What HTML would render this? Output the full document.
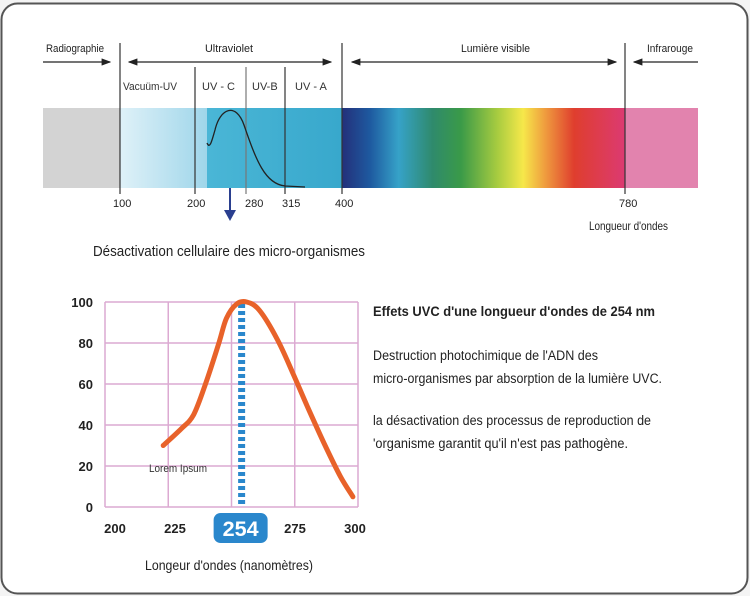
<!DOCTYPE html>
<html><head><meta charset="utf-8"><style>
body{margin:0;background:#f4f4f4;}
svg{display:block;font-family:"Liberation Sans",sans-serif;}
</style></head><body>
<svg width="750" height="596" viewBox="0 0 750 596">
<defs>
<linearGradient id="uvg" x1="0" x2="1"><stop offset="0" stop-color="#dff1f8"/><stop offset="1" stop-color="#9fd6ea"/></linearGradient>
<linearGradient id="uvc" x1="0" x2="1"><stop offset="0" stop-color="#4ab6d6"/><stop offset="1" stop-color="#38a8cc"/></linearGradient>
<linearGradient id="vis" x1="0" x2="1">
<stop offset="0" stop-color="#23307a"/><stop offset="0.1" stop-color="#1e5aa0"/><stop offset="0.2" stop-color="#36a2c8"/>
<stop offset="0.32" stop-color="#2f8a6c"/><stop offset="0.42" stop-color="#3a9a48"/><stop offset="0.55" stop-color="#a8cc40"/>
<stop offset="0.64" stop-color="#f6e84a"/><stop offset="0.72" stop-color="#ef9a3e"/><stop offset="0.82" stop-color="#df3e2e"/>
<stop offset="1" stop-color="#dc3a72"/></linearGradient>
<marker id="ah" markerWidth="8" markerHeight="6" refX="7" refY="3" orient="auto"><path d="M0,0L8,3L0,6z" fill="#222"/></marker>
<marker id="ahs" markerWidth="8" markerHeight="6" refX="1" refY="3" orient="auto"><path d="M8,0L0,3L8,6z" fill="#222"/></marker>
</defs>
<rect x="1.5" y="3.5" width="746" height="590" rx="16" fill="#fff" stroke="#555" stroke-width="2"/>

<g>
<rect x="43" y="108" width="77" height="80" fill="#d3d3d3"/>
<rect x="120" y="108" width="87" height="80" fill="url(#uvg)"/>
<rect x="207" y="108" width="135" height="80" fill="url(#uvc)"/>
<rect x="342" y="108" width="283" height="80" fill="url(#vis)"/>
<rect x="625" y="108" width="73" height="80" fill="#e283ae"/>
<g stroke="#333" stroke-width="1.2">
<line x1="120" y1="43" x2="120" y2="194"/><line x1="342" y1="43" x2="342" y2="194"/><line x1="625" y1="43" x2="625" y2="194"/>
<line x1="195" y1="67" x2="195" y2="194"/><line x1="246" y1="67" x2="246" y2="194" stroke="#777"/><line x1="285" y1="67" x2="285" y2="194"/>
</g>
<path d="M207,143 C210,150 212,140 215,130 C220,108 236,102 244,125 C256,160 265,184 285,186 L305,187" fill="none" stroke="#222" stroke-width="1.3"/>
<g stroke="#222" stroke-width="1.2" fill="none">
<line x1="43" y1="62" x2="110" y2="62" marker-end="url(#ah)"/>
<line x1="129" y1="62" x2="331" y2="62" marker-start="url(#ahs)" marker-end="url(#ah)"/>
<line x1="352" y1="62" x2="616" y2="62" marker-start="url(#ahs)" marker-end="url(#ah)"/>
<line x1="698" y1="62" x2="634" y2="62" marker-end="url(#ah)"/>
</g>
<g font-size="11" fill="#222" lengthAdjust="spacingAndGlyphs">
<text x="46" y="52" textLength="58" lengthAdjust="spacingAndGlyphs">Radiographie</text>
<text x="205" y="52" textLength="48" lengthAdjust="spacingAndGlyphs">Ultraviolet</text>
<text x="461" y="52" textLength="69" lengthAdjust="spacingAndGlyphs">Lumière visible</text>
<text x="647" y="52" textLength="46" lengthAdjust="spacingAndGlyphs">Infrarouge</text>
</g>
<g font-size="11" fill="#333">
<text x="123" y="90" textLength="54" lengthAdjust="spacingAndGlyphs">Vacuüm-UV</text>
<text x="202" y="90">UV - C</text>
<text x="252" y="90">UV-B</text>
<text x="295" y="90">UV - A</text>
</g>
<g font-size="11" fill="#222">
<text x="113" y="207">100</text><text x="187" y="207">200</text><text x="245" y="207">280</text>
<text x="282" y="207">315</text><text x="335" y="207">400</text><text x="619" y="207">780</text>
</g>
<text x="589" y="230" font-size="12" fill="#222" textLength="79" lengthAdjust="spacingAndGlyphs">Longueur d'ondes</text>
<line x1="230" y1="188" x2="230" y2="212" stroke="#2a3f8f" stroke-width="2"/>
<path d="M224,210 L236,210 L230,221z" fill="#2a3f8f"/>
<text x="93" y="256" font-size="15" fill="#222" textLength="272" lengthAdjust="spacingAndGlyphs">Désactivation cellulaire des micro-organismes</text>
</g>

<g id="chart"></g>

<g font-size="13.5" fill="#222">
<text x="373" y="316" font-weight="bold" font-size="14" textLength="282" lengthAdjust="spacingAndGlyphs">Effets UVC d'une longueur d'ondes de 254 nm</text>
<text x="373" y="360" textLength="225" lengthAdjust="spacingAndGlyphs">Destruction photochimique de l'ADN des</text>
<text x="373" y="383" textLength="289" lengthAdjust="spacingAndGlyphs">micro-organismes par absorption de la lumière UVC.</text>
<text x="373" y="425" textLength="278" lengthAdjust="spacingAndGlyphs">la désactivation des processus de reproduction de</text>
<text x="373" y="448" textLength="255" lengthAdjust="spacingAndGlyphs">'organisme garantit qu'il n'est pas pathogène.</text>
</g>
</svg>
<script>
const xTicks=[200,225,250,275,300];
const yTicks=[0,20,40,60,80,100];
const curveX=[223,230,235,240,245,248,252,256,261,268,274,280,287,293,298];
const curveY=[30,38,45,61,80,92,99,100,96,82,66,49,30,15,5];
const markerNm=254;
const ns="http://www.w3.org/2000/svg";
const g=document.getElementById('chart');
const X0=105,X1=358,Y0=507,Y1=302;
const xs=v=>X0+(v-200)/(300-200)*(X1-X0);
const ys=v=>Y0-(v/100)*(Y0-Y1);
const xl=v=>115+(v-200)*2.4;
function mk(t,a){const e=document.createElementNS(ns,t);for(const k in a)e.setAttribute(k,a[k]);g.appendChild(e);return e;}
yTicks.forEach(v=>{
 const l=mk('line',{x1:X0,x2:X1,y1:ys(v),y2:ys(v),stroke:'#dcaad2','stroke-width':1.5});
 
 
 const t=mk('text',{x:93,y:ys(v)+5,'text-anchor':'end','font-size':13,'font-weight':'bold',fill:'#222'});
 t.textContent=v;
 
 
});
xTicks.forEach(v=>{
 const l=mk('line',{x1:xs(v),x2:xs(v),y1:Y1,y2:Y0,stroke:'#dcaad2','stroke-width':1.5});
 
 
 if(v===250)return;
 const t=mk('text',{x:xl(v),y:533,'text-anchor':'middle','font-size':13,'font-weight':'bold',fill:'#222'});
 t.textContent=v;
 
 
});
const dl=mk('line',{x1:xs(markerNm),x2:xs(markerNm),y1:Y1+2,y2:Y0,stroke:'#2a87cc','stroke-width':7,'stroke-dasharray':'4 3'});


const P=curveX.map((x,i)=>[xs(x),ys(curveY[i])]);
let d='M'+P[0][0].toFixed(1)+','+P[0][1].toFixed(1);
for(let i=0;i<P.length-1;i++){
 const p0=P[Math.max(0,i-1)],p1=P[i],p2=P[i+1],p3=P[Math.min(P.length-1,i+2)];
 const c1=[p1[0]+(p2[0]-p0[0])/6,p1[1]+(p2[1]-p0[1])/6];
 const c2=[p2[0]-(p3[0]-p1[0])/6,p2[1]-(p3[1]-p1[1])/6];
 d+=`C${c1[0].toFixed(1)},${c1[1].toFixed(1)} ${c2[0].toFixed(1)},${c2[1].toFixed(1)} ${p2[0].toFixed(1)},${p2[1].toFixed(1)}`;
}
const p=mk('path',{d:d,fill:'none',stroke:'#e8622a','stroke-width':5,'stroke-linecap':'round','stroke-linejoin':'round'});


const lo=mk('text',{x:149,y:472,'font-size':11,fill:'#333',textLength:58,lengthAdjust:'spacingAndGlyphs'});
lo.textContent='Lorem Ipsum';


const bx=mk('rect',{x:xs(markerNm)-28,y:513,width:54,height:30,rx:7,fill:'#2a87cc'});


const bt=mk('text',{x:xs(markerNm)-1,y:536,'text-anchor':'middle','font-size':21,'font-weight':'bold',fill:'#fff',textLength:36,lengthAdjust:'spacingAndGlyphs'});
bt.textContent=markerNm;


const xt=mk('text',{x:145,y:570,'font-size':14,fill:'#222',textLength:168,lengthAdjust:'spacingAndGlyphs'});
xt.textContent="Longeur d'ondes (nanomètres)";


</script>
</body></html>
